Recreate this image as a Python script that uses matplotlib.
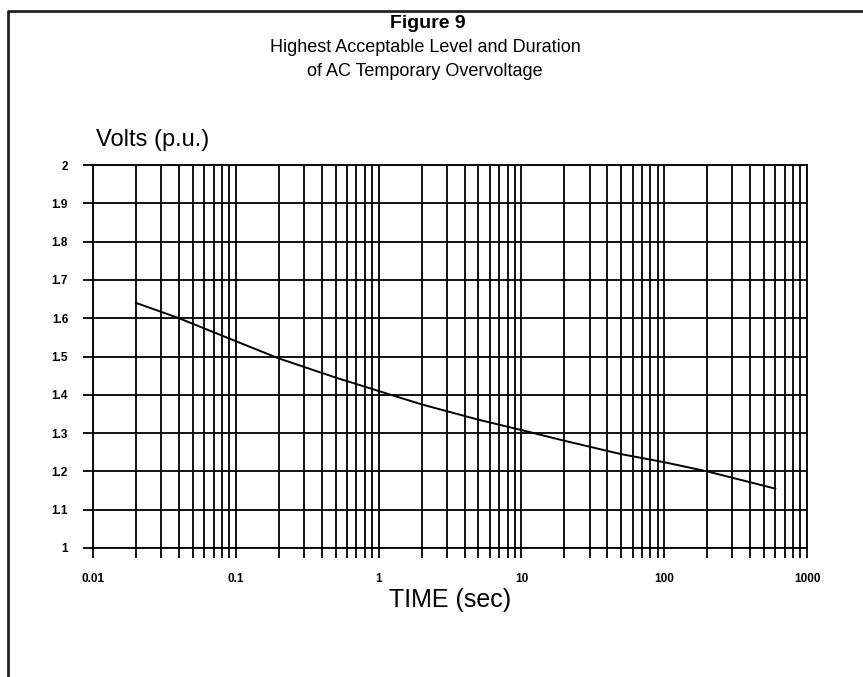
import numpy as np
import matplotlib
matplotlib.use("Agg")
import matplotlib.pyplot as plt
from matplotlib.lines import Line2D
from matplotlib.ticker import FixedLocator, NullFormatter

plt.rcParams['font.family'] = ['Liberation Sans', 'DejaVu Sans']

# curve
time_sec = [0.02, 0.04, 0.1, 0.2, 0.5, 1, 2, 5, 10, 20, 50, 100, 200, 600]
volts_pu = [1.64, 1.60, 1.54, 1.495, 1.445, 1.41, 1.375, 1.335, 1.308, 1.28, 1.245, 1.224, 1.20, 1.155]

x_major = [0.01, 0.1, 1, 10, 100, 1000]
x_labels = ["0.01", "0.1", "1", "10", "100", "1000"]
y_ticks = [1, 1.1, 1.2, 1.3, 1.4, 1.5, 1.6, 1.7, 1.8, 1.9, 2]
y_labels = ["1", "1.1", "1.2", "1.3", "1.4", "1.5", "1.6", "1.7", "1.8", "1.9", "2"]

W, H = 863, 677
fig = plt.figure(figsize=(W / 100, H / 100), dpi=100)

# page frame (left and top edges of the scanned page box)
fig.add_artist(Line2D([8 / W, 8 / W, 1], [0, 1 - 11 / H, 1 - 11 / H],
                      transform=fig.transFigure, color="#222222", lw=2))

ax = fig.add_axes([93 / W, 1 - 548 / H, (807 - 93) / W, (548 - 165) / H])
ax.set_xscale("log")
ax.set_xlim(0.01, 1000)
ax.set_ylim(1, 2)

minor = [m * 10.0 ** e for e in range(-2, 3) for m in range(2, 10)]
ax.xaxis.set_major_locator(FixedLocator(x_major))
ax.xaxis.set_minor_locator(FixedLocator(minor))
ax.xaxis.set_minor_formatter(NullFormatter())
ax.set_xticklabels(x_labels)
ax.set_yticks(y_ticks)
ax.set_yticklabels(y_labels)

ax.grid(which="both", color="black", lw=1.3)
for s in ax.spines.values():
    s.set_linewidth(1.3)
ax.tick_params(axis="both", which="both", length=7, width=1.3, color="black")
ax.tick_params(axis="x", pad=11, labelsize=8.5)
ax.tick_params(axis="y", pad=11, labelsize=8.5)
for lab in ax.get_xticklabels() + ax.get_yticklabels():
    lab.set_fontweight("bold")

ax.plot(time_sec, volts_pu, color="black", lw=1.4)

fig.text(96 / W, 1 - 140 / H, "Volts (p.u.)", fontsize=17, ha="left", va="center")
fig.text(450 / W, 1 - 600 / H, "TIME (sec)", fontsize=18, ha="center", va="center")

fig.text(428 / W, 1 - 23 / H, "Figure 9", fontsize=14, fontweight="bold", ha="center", va="center")
fig.text(425 / W, 1 - 47 / H, "Highest Acceptable Level and Duration", fontsize=13, ha="center", va="center")
fig.text(425 / W, 1 - 72 / H, "of AC Temporary Overvoltage", fontsize=13, ha="center", va="center")

fig.savefig("out.png", dpi=100)
